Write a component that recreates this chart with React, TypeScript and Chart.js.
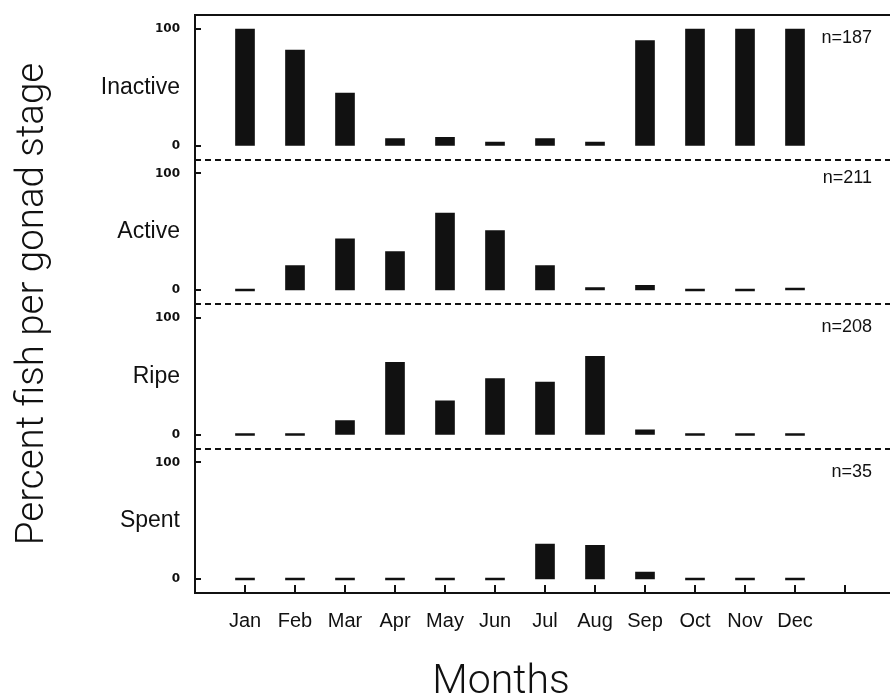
import React, { useEffect, useRef } from 'react';
import { Chart, registerables } from 'chart.js';

Chart.register(...registerables);

// ---------- data ----------
const MONTHS = ['Jan', 'Feb', 'Mar', 'Apr', 'May', 'Jun', 'Jul', 'Aug', 'Sep', 'Oct', 'Nov', 'Dec'];
const STAGES = ['Inactive', 'Active', 'Ripe', 'Spent'];
const SAMPLE_SIZES = ['n=187', 'n=211', 'n=208', 'n=35'];
const INACTIVE = [100, 82, 45, 6, 7, 3, 6, 3, 90, 100, 100, 100];
const ACTIVE = [0, 21, 44, 33, 66, 51, 21, 2, 4, 0, 0, 1];
const RIPE = [0, 0, 12, 62, 29, 48, 45, 67, 4, 0, 0, 0];
const SPENT = [0, 0, 0, 0, 0, 0, 30, 29, 6, 0, 0, 0];
const Y_TICK_VALUES = [0, 100];
const Y_AXIS_TITLE = 'Percent fish per gonad stage';
const X_AXIS_TITLE = 'Months';

const SERIES = [INACTIVE, ACTIVE, RIPE, SPENT];
const INK = '#111111';
const LABEL_TICK = 50;
const N_LABEL_POS = [92, 96, 92, 92];

const decor = {
  id: 'decor',
  afterDraw(chart: any) {
    const { ctx, chartArea: a, scales } = chart;
    const line = (x1: number, y1: number, x2: number, y2: number) => {
      ctx.beginPath();
      ctx.moveTo(x1, y1);
      ctx.lineTo(x2, y2);
      ctx.stroke();
    };
    ctx.save();
    ctx.strokeStyle = INK;
    ctx.lineWidth = 2;
    // top frame line
    line(a.left, a.top, a.right, a.top);
    // dashed panel separators
    ctx.setLineDash([6, 4]);
    for (let i = 1; i < STAGES.length; i++) {
      const y = Math.round(scales['y' + i].top);
      line(a.left, y, a.right, y);
    }
    ctx.setLineDash([]);
    // inward y tick marks
    for (let i = 0; i < STAGES.length; i++) {
      const s = scales['y' + i];
      for (const v of Y_TICK_VALUES) {
        const py = Math.round(s.getPixelForValue(v));
        line(a.left, py, a.left + 6, py);
      }
    }
    // inward x tick marks
    const xs = scales.x;
    for (let i = 0; i <= MONTHS.length; i++) {
      const px = Math.round(xs.getPixelForValue(i));
      line(px, a.bottom, px, a.bottom - 8);
    }
    // sample size labels
    ctx.fillStyle = INK;
    ctx.font = '18px "Liberation Sans", Arial, sans-serif';
    ctx.textAlign = 'right';
    ctx.textBaseline = 'middle';
    for (let i = 0; i < STAGES.length; i++) {
      const s = scales['y' + i];
      ctx.fillText(SAMPLE_SIZES[i], a.right - 18, s.getPixelForValue(N_LABEL_POS[i]));
    }
    // axis titles
    ctx.textAlign = 'center';
    ctx.textBaseline = 'middle';
    ctx.font = '300 41px Roboto, "Open Sans", sans-serif';
    ctx.fillText(X_AXIS_TITLE, 501, 683);
    ctx.font = '300 38.5px Roboto, "Open Sans", sans-serif';
    ctx.translate(33, 304);
    ctx.rotate(-Math.PI / 2);
    ctx.fillText(Y_AXIS_TITLE, 0, 0);
    ctx.restore();
  },
};

export default function App() {
  const ref = useRef<HTMLCanvasElement>(null);

  useEffect(() => {
    if (!ref.current) return;
    const yScales: any = {};
    STAGES.forEach((stage, i) => {
      yScales['y' + i] = {
        type: 'linear',
        position: 'left',
        stack: 'panels',
        stackWeight: 1,
        weight: STAGES.length - i,
        min: -12,
        max: 112,
        afterBuildTicks: (s: any) => {
          s.ticks = [Y_TICK_VALUES[0], LABEL_TICK, Y_TICK_VALUES[1]].map((v) => ({ value: v }));
        },
        afterFit: (s: any) => {
          s.width = 120;
          s.paddingTop = 0;
          s.paddingBottom = 0;
        },
        grid: { display: false, drawTicks: false },
        border: { display: true, color: INK, width: 2 },
        ticks: {
          padding: 15,
          color: INK,
          callback: (v: number) => (v === LABEL_TICK ? stage : String(v)),
          font: (c: any) =>
            c.tick && c.tick.value === LABEL_TICK
              ? { family: '"Liberation Sans", Arial, sans-serif', size: 23, weight: 'normal' }
              : { family: '"DejaVu Sans", sans-serif', size: 12, weight: 'bold' },
        },
      };
    });

    const chart = new Chart(ref.current, {
      type: 'bar',
      data: {
        datasets: SERIES.map((vals, i) => ({
          label: STAGES[i],
          data: vals.map((v, j) => ({ x: j, y: v })),
          yAxisID: 'y' + i,
          backgroundColor: INK,
          borderWidth: 0,
          barThickness: 19,
          grouped: false,
          minBarLength: 2,
        })),
      },
      options: {
        animation: false,
        responsive: true,
        maintainAspectRatio: false,
        layout: { padding: { left: 75, top: 15, right: 0, bottom: 0 } },
        plugins: { legend: { display: false }, tooltip: { enabled: false } },
        scales: {
          x: {
            type: 'linear',
            offset: false,
            min: -1,
            max: 12.9,
            afterBuildTicks: (s: any) => {
              s.ticks = MONTHS.concat(['']).map((_, i) => ({ value: i }));
            },
            afterFit: (s: any) => {
              s.height = 105;
            },
            grid: { display: false, drawTicks: false, offset: false },
            border: { display: true, color: INK, width: 2 },
            ticks: {
              autoSkip: false,
              maxRotation: 0,
              padding: 16,
              color: INK,
              font: { family: '"Liberation Sans", Arial, sans-serif', size: 20 },
              callback: (v: number) => MONTHS[v] ?? '',
            },
          },
          ...yScales,
        },
      } as any,
      plugins: [decor],
    });
    return () => chart.destroy();
  }, []);

  return (
    <div style={{ position: 'fixed', left: 0, top: 0, width: 890, height: 698, background: '#fff' }}>
      <canvas ref={ref} />
    </div>
  );
}
